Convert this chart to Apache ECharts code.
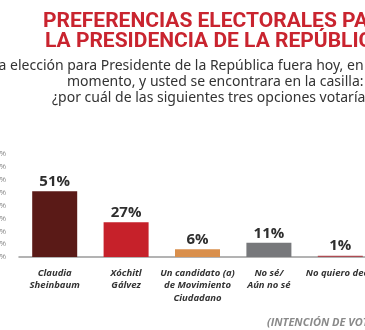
<!DOCTYPE html>
<html>
<head>
<meta charset="utf-8">
<style>
  html, body { margin: 0; padding: 0; background: #ffffff; }
  #chart { width: 365px; height: 330px; }
</style>
<script src="https://cdn.jsdelivr.net/npm/echarts@6/dist/echarts.min.js"></script>
</head>
<body>
<div id="chart"></div>
<script>
// Vote intention, presidential race
const categories = [
  'Claudia\nSheinbaum',
  'Xóchitl\nGálvez',
  'Un candidato (a)\nde Movimiento\nCiudadano',
  'No sé/\nAún no sé',
  'No quiero decir'
];
const values = [51, 27, 6, 11, 1];
const barColors = ['#5a1a17', '#c6212a', '#d98f4c', '#77787b', '#ad4b52'];
const yTicks = { min: 0, max: 80, interval: 10 };

const titleLines = ['PREFERENCIAS ELECTORALES PARA', 'LA PRESIDENCIA DE LA REPÚBLICA'];
const questionLines = [
  'Si la elección para Presidente de la República fuera hoy, en este',
  'momento, y usted se encontrara en la casilla:',
  '¿por cuál de las siguientes tres opciones votaría?'
];
const footNote = '(INTENCIÓN DE VOTO)';

const chart = echarts.init(document.getElementById('chart'), null, { renderer: 'canvas' });

chart.setOption({
  backgroundColor: '#ffffff',
  animation: false,
  grid: {
    left: 19, top: 154, width: 357, height: 103,
    containLabel: false,
    outerBoundsMode: 'none'
  },
  xAxis: {
    type: 'category',
    data: categories,
    axisLine: { show: true, lineStyle: { color: '#9a9a9a', width: 1.5 } },
    axisTick: { show: false },
    axisLabel: {
      interval: 0,
      margin: 10,
      color: '#333333',
      fontFamily: 'Open Sans',
      fontWeight: 'bold',
      fontStyle: 'italic',
      fontSize: 9.5,
      lineHeight: 12.5
    }
  },
  yAxis: {
    type: 'value',
    min: yTicks.min,
    max: yTicks.max,
    interval: yTicks.interval,
    axisLine: { show: false },
    axisTick: { show: false },
    splitLine: { show: false },
    axisLabel: {
      formatter: '{value}%',
      margin: 13,
      color: '#8a8a8a',
      fontFamily: 'Open Sans',
      fontSize: 8
    }
  },
  series: [{
    type: 'bar',
    data: values.map((v, i) => ({ value: v, itemStyle: { color: barColors[i] } })),
    barWidth: 45,
    label: {
      show: true,
      position: 'top',
      distance: 2,
      formatter: '{c}%',
      color: '#2e2e2e',
      fontFamily: 'Open Sans',
      fontWeight: 'bold',
      fontSize: 15
    }
  }],
  graphic: [
    {
      type: 'text', left: 43, top: 11,
      style: { text: titleLines[0], fill: '#c9242f', font: 'bold 21px Roboto' }
    },
    {
      type: 'text', left: 45, top: 31,
      style: { text: titleLines[1], fill: '#c9242f', font: 'bold 21px Roboto' }
    },
    {
      type: 'text', x: -20, y: 59,
      style: { text: questionLines[0], fill: '#333333', font: '14px "Noto Sans"' }
    },
    {
      type: 'text', x: 67, y: 75,
      style: { text: questionLines[1], fill: '#333333', font: '14px "Noto Sans"' }
    },
    {
      type: 'text', x: 52, y: 91,
      style: { text: questionLines[2], fill: '#333333', font: '14px "Noto Sans"' }
    },
    {
      type: 'text', x: 267, y: 317,
      style: { text: footNote, fill: '#8a8a8a', font: 'italic bold 11px "Open Sans"' }
    }
  ]
});
</script>
</body>
</html>
